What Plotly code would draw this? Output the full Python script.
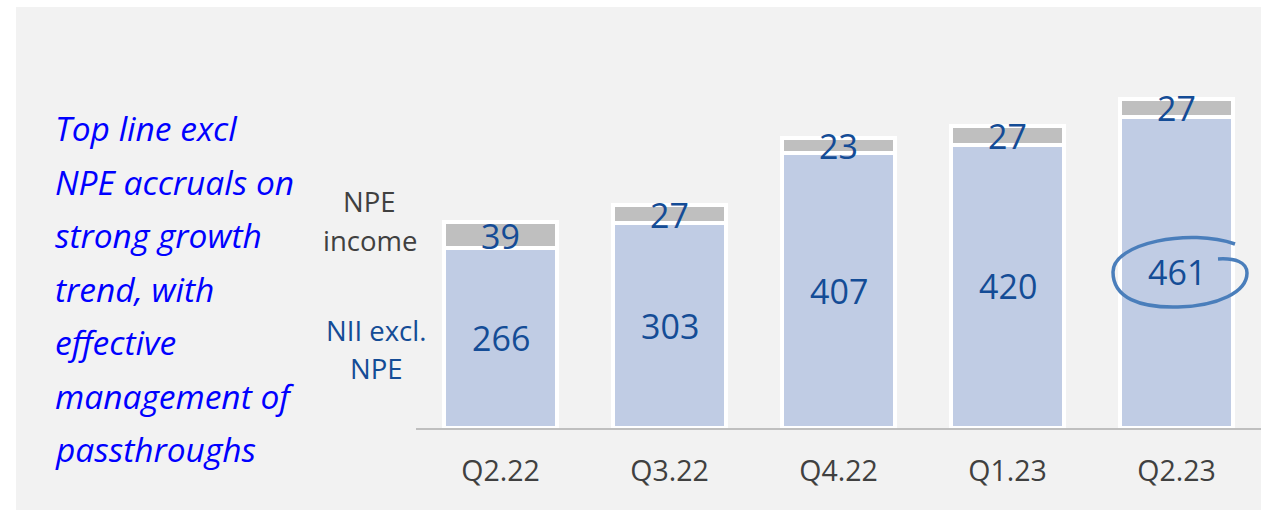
import plotly.graph_objects as go

quarters = ["Q2.22", "Q3.22", "Q4.22", "Q1.23", "Q2.23"]
nii_excl_npe = [266, 303, 407, 420, 461]
npe_income = [39, 27, 23, 27, 27]
side_text = ["Top line excl", "NPE accruals on", "strong growth", "trend, with",
             "effective", "management of", "passthroughs"]

W, H = 1261, 510
ML, MR, MT, MB = 416, 0, 77, 82
YMAX = 520
pw, ph = W - ML - MR, H - MT - MB

def px2paper_x(px):
    return (px - ML) / pw

def py2paper_y(py):
    return (H - MB - py) / ph

BLUE_FILL = "#c0cce4"
GRAY_FILL = "#bfbfbf"
LABEL_BLUE = "#144c96"
DARK = "#404040"
FONT = "Open Sans"

fig = go.Figure()
fig.add_trace(go.Bar(x=quarters, y=nii_excl_npe, marker=dict(color=BLUE_FILL, line=dict(color="white", width=4)),
                     hoverinfo="skip", showlegend=False))
fig.add_trace(go.Bar(x=quarters, y=npe_income, marker=dict(color=GRAY_FILL, line=dict(color="white", width=4)),
                     hoverinfo="skip", showlegend=False))

ann = []
for q, a, b in zip(quarters, nii_excl_npe, npe_income):
    ann.append(dict(x=q, y=a / 2, xref="x", yref="y", text=str(a), showarrow=False,
                    font=dict(family=FONT, size=34, color=LABEL_BLUE), yanchor="middle"))
    ann.append(dict(x=q, y=a + b / 2 - 1, xref="x", yref="y", text=str(b), showarrow=False,
                    font=dict(family=FONT, size=34, color=LABEL_BLUE), yanchor="middle"))

# side commentary
for i, line in enumerate(side_text):
    ann.append(dict(x=px2paper_x(53), y=py2paper_y(128 + 53.5 * i), xref="paper", yref="paper",
                    text=line, showarrow=False, xanchor="left", yanchor="middle",
                    font=dict(family=FONT, size=33.5, color="#0000ff", style="italic")))

# series labels
for txt, cx, cy, col in [("NPE", 369, 201, DARK), ("income", 370, 240, DARK),
                         ("NII excl.", 376, 330, LABEL_BLUE), ("NPE", 376, 368, LABEL_BLUE)]:
    ann.append(dict(x=px2paper_x(cx), y=py2paper_y(cy), xref="paper", yref="paper",
                    text=txt, showarrow=False, xanchor="center", yanchor="middle",
                    font=dict(family=FONT, size=27.5, color=col)))

# hand-drawn loop (pixel points -> paper coords)
loop_px = [("M", [(1235, 244)]),
           ("C", [(1190, 228), (1113, 243), (1113, 272)]),
           ("C", [(1113, 298), (1140, 308), (1178, 307)]),
           ("C", [(1218, 306), (1247, 292), (1247, 273)]),
           ("C", [(1247, 262), (1235, 258), (1218, 259)])]
path = " ".join(cmd + " " + " ".join(f"{px2paper_x(x):.5f},{py2paper_y(y):.5f}" for x, y in pts)
                for cmd, pts in loop_px)

shapes = [
    dict(type="rect", xref="paper", yref="paper", x0=px2paper_x(-5), x1=px2paper_x(16),
         y0=py2paper_y(H + 5), y1=py2paper_y(-5), fillcolor="white", line=dict(width=0), layer="below"),
    dict(type="rect", xref="paper", yref="paper", x0=px2paper_x(-5), x1=px2paper_x(W + 5),
         y0=py2paper_y(7), y1=py2paper_y(-5), fillcolor="white", line=dict(width=0), layer="below"),
    dict(type="path", xref="paper", yref="paper", layer="above", path=path,
         line=dict(color="#4a7ebb", width=3.5)),
]

fig.update_layout(
    width=W, height=H,
    margin=dict(l=ML, r=MR, t=MT, b=MB, pad=0),
    paper_bgcolor="#f2f2f2", plot_bgcolor="rgba(0,0,0,0)",
    barmode="stack", bargap=0.337,
    annotations=ann, shapes=shapes,
    xaxis=dict(type="category", showline=True, linecolor="#bfbfbf", linewidth=2,
               showgrid=False, zeroline=False, ticks="",
               tickfont=dict(family=FONT, size=28.5, color=DARK), ticklabelstandoff=17),
    yaxis=dict(range=[0, YMAX], visible=False, showgrid=False, zeroline=False),
    font=dict(family=FONT),
)

fig.write_html("out.html", config={"displayModeBar": False, "staticPlot": True},
               post_script="document.body.style.margin='0';document.body.style.overflow='hidden';")
